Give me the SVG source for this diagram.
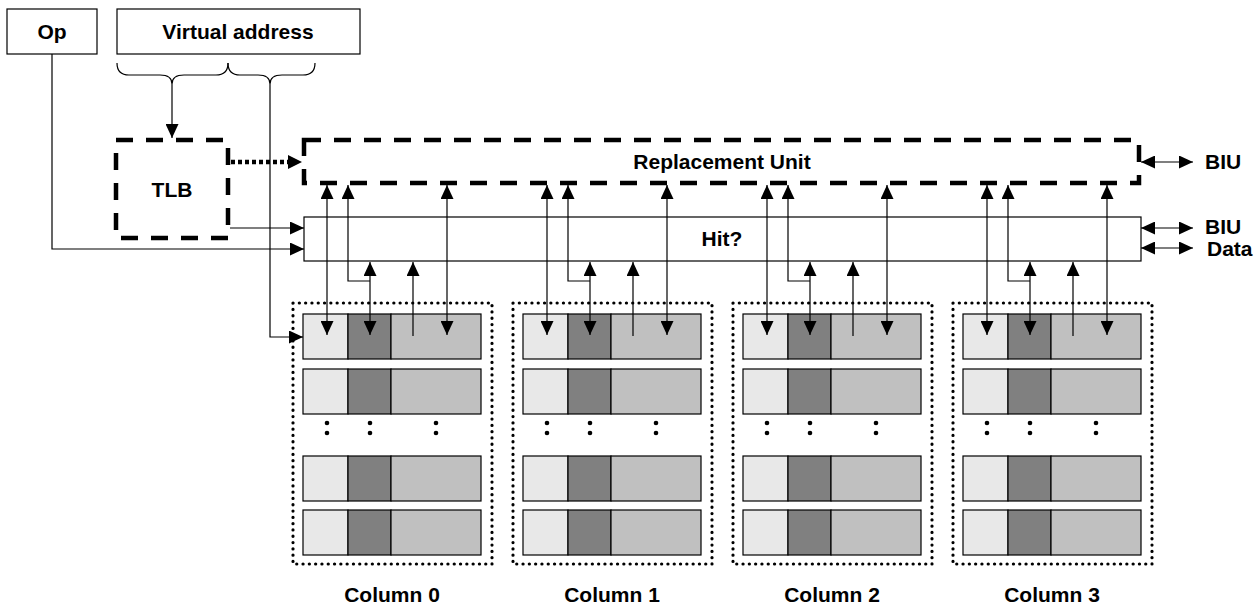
<svg xmlns="http://www.w3.org/2000/svg" width="1259" height="608" viewBox="0 0 1259 608">
<style>
text{font-family:"Liberation Sans",Arial,sans-serif;font-weight:bold;font-size:21px;fill:#000}
.box{fill:#fff;stroke:#000;stroke-width:1.2}
.dash{fill:none;stroke:#000;stroke-width:4.5;stroke-dasharray:17 13}
.dots{fill:none;stroke:#000;stroke-width:3.2;stroke-dasharray:0.1 6.2;stroke-linecap:round}
.ln{fill:none;stroke:#000;stroke-width:1.2}
.a2{fill:none;stroke:#000;stroke-width:1.2;marker-end:url(#ah)}
.ab{fill:none;stroke:#000;stroke-width:1.2;marker-start:url(#ah);marker-end:url(#ah)}
.c1{fill:#e8e8e8;stroke:#000;stroke-width:1.2}
.c2{fill:#808080;stroke:#000;stroke-width:1.2}
.c3{fill:#c0c0c0;stroke:#000;stroke-width:1.2}
</style>
<defs>
<marker id="ah" viewBox="0 0 14 13" refX="14" refY="6.5" markerWidth="14" markerHeight="13" markerUnits="userSpaceOnUse" orient="auto-start-reverse"><path d="M0,0 L14,6.5 L0,13 z" fill="#000"/></marker>
<g id="row">
<rect class="c1" x="0" y="0" width="45" height="45"/>
<rect class="c2" x="45" y="0" width="43" height="45"/>
<rect class="c3" x="88" y="0" width="90" height="45"/>
</g>
<g id="colbody">
<rect class="dots" x="-10" y="0" width="199" height="261"/>
<use href="#row" y="11"/>
<use href="#row" y="66"/>
<circle cx="24" cy="120" r="2.3"/><circle cx="24" cy="130" r="2.3"/>
<circle cx="67" cy="120" r="2.3"/><circle cx="67" cy="130" r="2.3"/>
<circle cx="133" cy="120" r="2.3"/><circle cx="133" cy="130" r="2.3"/>
<use href="#row" y="153"/>
<use href="#row" y="207"/>
</g>
<g id="colarrows">
<path class="ab" d="M24,185 V335"/>
<path class="a2" d="M67,281 H45 V185"/>
<path class="ab" d="M67,262 V335"/>
<path class="a2" d="M110,336 V262"/>
<path class="ab" d="M144,185 V335"/>
</g>
</defs>

<g id="op"><rect class="box" x="7" y="9" width="90" height="45"/><text x="52" y="39" text-anchor="middle">Op</text></g>
<g id="vaddr"><rect class="box" x="117" y="9" width="243" height="45"/><text x="238" y="39" text-anchor="middle">Virtual address</text></g>
<g id="tlb"><rect class="dash" x="116" y="140" width="112" height="98"/><text x="172" y="197" text-anchor="middle">TLB</text></g>
<g id="replacement"><rect class="dash" x="304" y="140" width="835" height="43"/><text x="722" y="169" text-anchor="middle">Replacement Unit</text></g>
<g id="hit"><rect class="box" x="304" y="217" width="837" height="44"/><text x="722" y="246" text-anchor="middle">Hit?</text></g>

<g id="column0" transform="translate(303,303)"><use href="#colbody"/><text x="89" y="299" text-anchor="middle">Column 0</text></g>
<g id="column1" transform="translate(523,303)"><use href="#colbody"/><text x="89" y="299" text-anchor="middle">Column 1</text></g>
<g id="column2" transform="translate(743,303)"><use href="#colbody"/><text x="89" y="299" text-anchor="middle">Column 2</text></g>
<g id="column3" transform="translate(963,303)"><use href="#colbody"/><text x="89" y="299" text-anchor="middle">Column 3</text></g>

<g id="labels">
<text x="1205" y="169">BIU</text>
<text x="1205" y="234">BIU</text>
<text x="1207" y="256">Data</text>
</g>

<g id="connectors">
<path class="ln" d="M117,63 Q117,75 129,75 H160 Q172,75 172,84 Q172,75 184,75 H216 Q228,75 228,63"/>
<path class="ln" d="M228,63 Q228,75 240,75 H258 Q270,75 270,84 Q270,75 282,75 H303 Q315,75 315,63"/>
<path class="a2" d="M172,84 V138"/>
<path class="a2" d="M270,84 V337 H303"/>
<path class="a2" d="M52,54 V249 H304"/>
<path class="a2" d="M230,228 H304"/>
<path d="M231,162 H289" fill="none" stroke="#000" stroke-width="4.5" stroke-dasharray="4 3"/>
<path d="M288,155 L302,162 L288,169 z" fill="#000"/>
<path class="ab" d="M1141,162 H1193"/>
<path class="ab" d="M1141,228 H1193"/>
<path class="ab" d="M1141,248 H1193"/>
<use href="#colarrows" x="303"/>
<use href="#colarrows" x="523"/>
<use href="#colarrows" x="743"/>
<use href="#colarrows" x="963"/>
</g>
</svg>
